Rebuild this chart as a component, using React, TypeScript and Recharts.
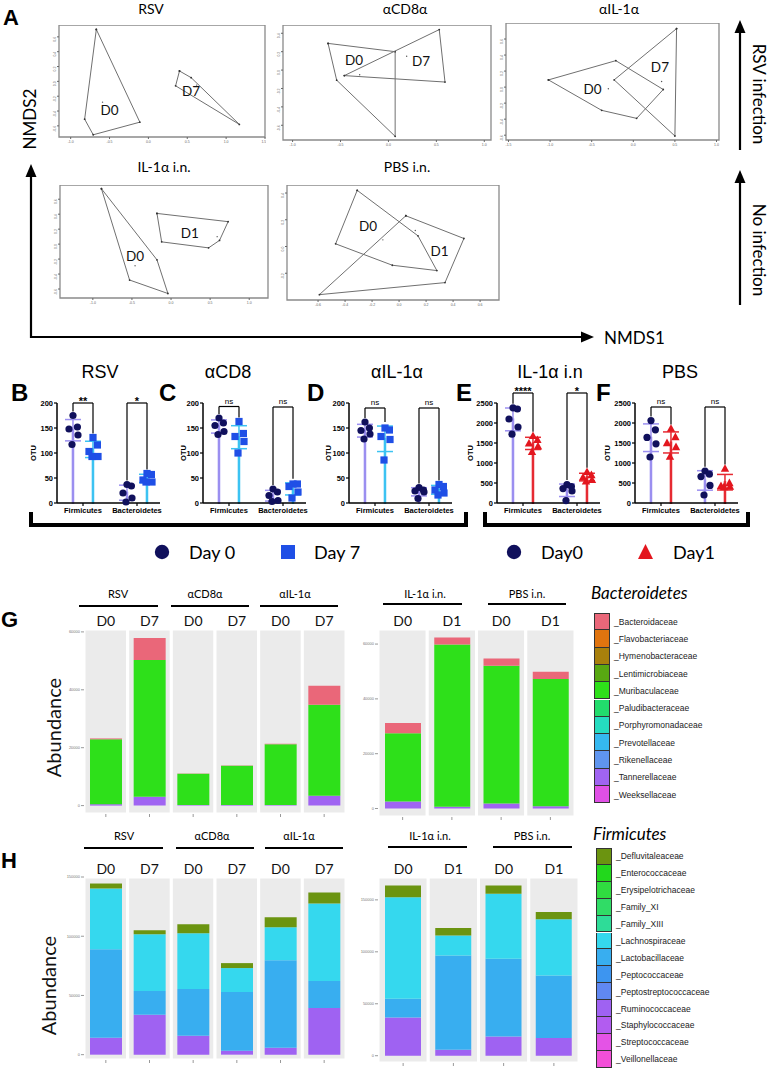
import {
  Bar,
  BarChart,
  Cell,
  ComposedChart,
  ErrorBar,
  ReferenceArea,
  ReferenceDot,
  ReferenceLine,
  Scatter,
  ScatterChart,
  XAxis,
  YAxis,
} from "recharts";

const SANS = "'Liberation Sans', Arial, sans-serif";
const SOFT = "Lato, 'Open Sans', sans-serif";

type P = { x: number; y: number };

// ---- A: NMDS hulls, centroids and where the group name sits (NMDS1, NMDS2)
const rsvD0Hull: P[] = [{ x: -0.67, y: 0.7 }, { x: -0.11, y: -0.55 }, { x: -0.71, y: -0.72 }, { x: -0.82, y: -0.51 }];
const rsvD7Hull: P[] = [{ x: 0.4, y: 0.14 }, { x: 0.55, y: 0.05 }, { x: 1.17, y: -0.58 }, { x: 0.35, y: -0.06 }];
const rsvCentres: P[] = [{ x: -0.59, y: -0.28 }, { x: 0.62, y: -0.05 }];
const rsvLabels: P[] = [{ x: -0.5, y: -0.39 }, { x: 0.55, y: -0.13 }];

const cd8D0Hull: P[] = [{ x: -0.63, y: 0.29 }, { x: 0.07, y: 0.2 }, { x: 0.07, y: -0.72 }, { x: -0.54, y: -0.11 }];
const cd8D7Hull: P[] = [{ x: -0.46, y: -0.06 }, { x: 0.53, y: 0.44 }, { x: 0.59, y: -0.13 }];
const cd8Centres: P[] = [{ x: -0.3, y: -0.05 }, { x: 0.19, y: 0.15 }];
const cd8Labels: P[] = [{ x: -0.36, y: 0.11 }, { x: 0.34, y: 0.1 }];

const ilD0Hull: P[] = [{ x: -1.02, y: 0.09 }, { x: -0.21, y: 0.33 }, { x: 0.36, y: -0.03 }, { x: 0.04, y: -0.39 }, { x: -0.38, y: -0.29 }];
const ilD7Hull: P[] = [{ x: 0.52, y: 0.73 }, { x: 0.5, y: -0.61 }, { x: -0.23, y: 0.09 }];
const ilCentres: P[] = [{ x: -0.3, y: -0.02 }, { x: 0.34, y: 0.07 }];
const ilLabels: P[] = [{ x: -0.49, y: -0.02 }, { x: 0.32, y: 0.25 }];

const inD0Hull: P[] = [{ x: -0.89, y: 0.74 }, { x: -0.18, y: -0.21 }, { x: -0.04, y: -0.66 }, { x: -0.53, y: -0.48 }];
const inD1Hull: P[] = [{ x: -0.18, y: 0.41 }, { x: 0.73, y: 0.3 }, { x: 0.62, y: 0.05 }, { x: 0.48, y: -0.05 }, { x: -0.12, y: 0.03 }];
const inCentres: P[] = [{ x: -0.46, y: -0.29 }, { x: 0.59, y: 0.1 }];
const inLabels: P[] = [{ x: -0.46, y: -0.16 }, { x: 0.24, y: 0.15 }];

const pbsD0Hull: P[] = [{ x: -0.31, y: 0.42 }, { x: 0.14, y: 0.08 }, { x: 0.28, y: -0.18 }, { x: -0.05, y: -0.14 }, { x: -0.47, y: 0.02 }];
const pbsD1Hull: P[] = [{ x: 0.05, y: 0.23 }, { x: 0.48, y: 0.06 }, { x: 0.34, y: -0.27 }, { x: -0.59, y: -0.36 }];
const pbsCentres: P[] = [{ x: -0.12, y: 0.05 }, { x: 0.12, y: 0.12 }];
const pbsLabels: P[] = [{ x: -0.23, y: 0.15 }, { x: 0.3, y: -0.03 }];

// ---- B-F: OTU per mouse (Firmicutes day 0 / later, Bacteroidetes day 0 / later)
const bFirm0 = [175, 152, 148, 136, 117];
const bFirm7 = [131, 116, 103, 93, 93];
const bBact0 = [37, 34, 20, 10, 2];
const bBact7 = [59, 57, 46, 42, 42];

const cFirm0 = [170, 160, 155, 143, 137];
const cFirm7 = [163, 139, 133, 123, 100];
const cBact0 = [28, 22, 15, 5, 3];
const cBact7 = [38, 38, 33, 22, 10];

const dFirm0 = [162, 150, 145, 138, 128];
const dFirm7 = [150, 146, 133, 127, 86];
const dBact0 = [31, 26, 24, 22, 9];
const dBact7 = [37, 33, 26, 20, 16];

const eFirm0 = [2380, 2350, 2100, 1900, 1720];
const eFirm1 = [1680, 1580, 1490, 1420, 1280];
const eBact0 = [460, 410, 360, 300, 60];
const eBact1 = [780, 700, 640, 580, 540];

const fFirm0 = [2060, 1830, 1640, 1480, 1150];
const fFirm1 = [1860, 1650, 1500, 1400, 1160];
const fBact0 = [800, 720, 660, 440, 200];
const fBact1 = [860, 500, 430, 410, 400];

const smallTicks = [0, 50, 100, 150, 200];
const bigTicks = [0, 500, 1000, 1500, 2000, 2500];

// ---- G: Bacteroidetes abundance per family
const bactFamilies = [
  "Bacteroidaceae", "Flavobacteriaceae", "Hymenobacteraceae", "Lentimicrobiaceae",
  "Muribaculaceae", "Paludibacteraceae", "Porphyromonadaceae", "Prevotellaceae",
  "Rikenellaceae", "Tannerellaceae", "Weeksellaceae",
];
const bactColours = [
  "#ea6779", "#e0740f", "#a8800c", "#58a812", "#2ee01a", "#22dc6c",
  "#25dcc0", "#35b8f0", "#5f95ef", "#a064f2", "#e050e6",
];

const leftCats = ["RSV D0", "RSV D7", "CD8 D0", "CD8 D7", "IL D0", "IL D7"];
const leftDays = ["D0", "D7", "D0", "D7", "D0", "D7"];
const rightCats = ["in D0", "in D1", "PBS D0", "PBS D1"];
const rightDays = ["D0", "D1", "D0", "D1"];

const gLeftBacteroidaceae = [300, 7600, 100, 100, 200, 6600];
const gLeftMuribaculaceae = [22400, 47200, 10800, 13600, 21000, 31400];
const gLeftTannerellaceae = [500, 3100, 200, 200, 200, 3400];

const gRightBacteroidaceae = [3700, 2600, 2600, 2600];
const gRightMuribaculaceae = [24900, 59200, 50300, 46500];
const gRightTannerellaceae = [2600, 600, 1800, 800];

// ---- H: Firmicutes abundance per family
const firmFamilies = [
  "Defluvitaleaceae", "Enterococcaceae", "Erysipelotrichaceae", "Family_XI", "Family_XIII",
  "Lachnospiraceae", "Lactobacillaceae", "Peptococcaceae", "Peptostreptococcaceae",
  "Ruminococcaceae", "Staphylococcaceae", "Streptococcaceae", "Veillonellaceae",
];
const firmColours = [
  "#6b9410", "#22d81c", "#30dc40", "#30dc66", "#2edc98", "#35d8ee", "#38aef0",
  "#3d95f0", "#6088f2", "#9f62f2", "#b25cf0", "#e453e6", "#f24fd8",
];

const hLeftDefluvitaleaceae = [4200, 3300, 7600, 4200, 8400, 9300];
const hLeftLachnospiraceae = [51300, 47900, 47000, 20200, 27800, 65500];
const hLeftLactobacillaceae = [74700, 20200, 39500, 49500, 73900, 22700];
const hLeftRuminococcaceae = [14300, 33600, 16000, 3400, 5900, 39500];

const hRightDefluvitaleaceae = [11200, 7100, 8000, 6800];
const hRightLachnospiraceae = [97800, 19200, 62500, 54200];
const hRightLactobacillaceae = [18000, 90700, 74700, 60200];
const hRightRuminococcaceae = [36800, 5800, 18600, 17000];

const DAY0_BAR = "#9b8ff0";
const DAY7_BAR = "#3cc3f2";
const DAY1_BAR = "#e62a32";
const DAY0_DOT = "#10105c";
const DAY7_DOT = "#1f4fe6";
const DAY1_DOT = "#e3161e";

function Txt({ x, y, children, size = 12, weight = 400, font = SANS, italic = false, align = "center", rotate = 0 }: any) {
  const tx = align === "center" ? "-50%" : align === "right" ? "-100%" : "0%";
  return (
    <div
      style={{
        position: "absolute", left: x, top: y, whiteSpace: "nowrap", lineHeight: 1,
        fontSize: size, fontWeight: weight, fontFamily: font, fontStyle: italic ? "italic" : "normal",
        color: "#000", transform: `translate(${tx}, -50%) rotate(${rotate}deg)`,
      }}
    >
      {children}
    </div>
  );
}

const hullDot = (p: any) => <circle cx={p.cx} cy={p.cy} r={0.9} fill="#333" />;

function Nmds({ title, tx, ty, box, xDomain, yDomain, xTicks, yTicks, hulls, centres, labels, names }: any) {
  const yw = 10;
  const xh = 9;
  const tickStyle = { fontSize: 3.5, fill: "#666" };
  return (
    <>
      <Txt x={tx} y={ty} size={14} font={SOFT}>{title}</Txt>
      <div style={{ position: "absolute", left: box.x - yw, top: box.y }}>
        <ScatterChart width={box.w + yw + 1} height={box.h + xh + 1} margin={{ top: 0, right: 1, bottom: 1, left: 0 }}>
          <XAxis type="number" dataKey="x" domain={xDomain} ticks={xTicks} height={xh} tickSize={2} axisLine={false}
            tick={tickStyle} tickFormatter={(v: number) => v.toFixed(1)} />
          <YAxis type="number" dataKey="y" domain={yDomain} ticks={yTicks} width={yw} tickSize={2} axisLine={false}
            tick={{ ...tickStyle, angle: -90 }} tickFormatter={(v: number) => v.toFixed(1)} />
          <ReferenceArea x1={xDomain[0]} x2={xDomain[1]} y1={yDomain[0]} y2={yDomain[1]} fill="none" stroke="#8a8a8a" strokeWidth={1.3} />
          {hulls.map((h: P[], i: number) => (
            <Scatter key={`h${i}`} data={[...h, h[0]]} line={{ stroke: "#707070", strokeWidth: 1 }} lineType="joint" shape={hullDot} isAnimationActive={false} />
          ))}
          <Scatter data={centres} shape={(p: any) => <circle cx={p.cx} cy={p.cy} r={0.7} fill="#555" />} isAnimationActive={false} />
          {labels.map((l: P, i: number) => (
            <Scatter key={`l${i}`} data={[l]} isAnimationActive={false}
              shape={(p: any) => (
                <text x={p.cx} y={p.cy} textAnchor="middle" dominantBaseline="central" fontSize={13.5} fontFamily={SOFT} fill="#111">{names[i]}</text>
              )} />
          ))}
        </ScatterChart>
      </div>
    </>
  );
}

const nmdsPlots = [
  { title: "RSV", tx: 151, ty: 9, box: { x: 59, y: 25, w: 206, h: 112 }, xDomain: [-1.15, 1.5], yDomain: [-0.75, 0.76],
    xTicks: [-1, -0.5, 0, 0.5, 1, 1.5], yTicks: [-0.6, -0.4, -0.2, 0, 0.2, 0.4, 0.6],
    hulls: [rsvD0Hull, rsvD7Hull], centres: rsvCentres, labels: rsvLabels, names: ["D0", "D7"] },
  { title: "αCD8α", tx: 405, ty: 9, box: { x: 283, y: 25, w: 208, h: 115 }, xDomain: [-1.1, 1.07], yDomain: [-0.76, 0.49],
    xTicks: [-1, -0.5, 0, 0.5, 1], yTicks: [-0.6, -0.4, -0.2, 0, 0.2, 0.4],
    hulls: [cd8D0Hull, cd8D7Hull], centres: cd8Centres, labels: cd8Labels, names: ["D0", "D7"] },
  { title: "αIL-1α", tx: 619, ty: 9, box: { x: 506, y: 23, w: 213, h: 117 }, xDomain: [-1.53, 1.03], yDomain: [-0.66, 0.8],
    xTicks: [-1.5, -1, -0.5, 0, 0.5, 1], yTicks: [-0.6, -0.4, -0.2, 0, 0.2, 0.4, 0.6],
    hulls: [ilD0Hull, ilD7Hull], centres: ilCentres, labels: ilLabels, names: ["D0", "D7"] },
  { title: "IL-1α i.n.", tx: 164, ty: 167, box: { x: 60, y: 185, w: 208, h: 113 }, xDomain: [-1.42, 1.24], yDomain: [-0.72, 0.79],
    xTicks: [-1, -0.5, 0, 0.5, 1], yTicks: [-0.6, -0.4, -0.2, 0, 0.2, 0.4, 0.6],
    hulls: [inD0Hull, inD1Hull], centres: inCentres, labels: inLabels, names: ["D0", "D1"] },
  { title: "PBS i.n.", tx: 407, ty: 167, box: { x: 287, y: 185, w: 212, h: 115 }, xDomain: [-0.83, 0.74], yDomain: [-0.4, 0.46],
    xTicks: [-0.6, -0.4, -0.2, 0, 0.2, 0.4, 0.6], yTicks: [-0.2, 0, 0.2, 0.4],
    hulls: [pbsD0Hull, pbsD1Hull], centres: pbsCentres, labels: pbsLabels, names: ["D0", "D1"] },
];

// bar slots on the numeric x axis: Firmicutes pair, then Bacteroidetes pair
const slots = [0, 1, 2.7, 3.7];
const spread = [0, 0.22, -0.2, 0.25, -0.05];

const mean = (a: number[]) => a.reduce((s, v) => s + v, 0) / a.length;
const sd = (a: number[]) => {
  const m = mean(a);
  return Math.sqrt(a.reduce((s, v) => s + (v - m) ** 2, 0) / (a.length - 1));
};

const circleDot = (p: any) => <circle cx={p.cx} cy={p.cy} r={3.6} fill={DAY0_DOT} />;
const squareDot = (p: any) => <rect x={p.cx - 3.6} y={p.cy - 3.6} width={7.2} height={7.2} fill={DAY7_DOT} />;
const triangleDot = (p: any) => (
  <polygon points={`${p.cx},${p.cy - 4.4} ${p.cx - 4.2},${p.cy + 3.2} ${p.cx + 4.2},${p.cy + 3.2}`} fill={DAY1_DOT} />
);

function OtuPanel({ letter, lx, title, tx, plotX, yMax, yTicks, groups, laterBar, laterDot, marks, otuX }: any) {
  const yw = 36;
  const top = 30;
  const bars = groups.map((g: number[], i: number) => ({
    pos: slots[i],
    mean: mean(g),
    [i % 2 ? "sdLate" : "sdEarly"]: sd(g),
  }));
  const early = groups.flatMap((g: number[], i: number) => (i % 2 ? [] : g.map((v, k) => ({ pos: slots[i] + spread[k], v }))));
  const late = groups.flatMap((g: number[], i: number) => (i % 2 ? g.map((v, k) => ({ pos: slots[i] + spread[k], v })) : []));
  const pad = yMax * 0.04;
  const reach = groups.map((g: number[]) => Math.max(Math.max(...g), mean(g) + sd(g)) + pad);
  return (
    <>
      <Txt x={tx} y={372} size={18}>{title}</Txt>
      <Txt x={lx} y={393} size={24} weight={700} align="left">{letter}</Txt>
      <div style={{ position: "absolute", left: plotX - yw, top: 403 - top }}>
        <ComposedChart width={yw + 103 + 4} height={top + 100 + 18} data={bars} margin={{ top, right: 4, bottom: 0, left: 0 }}>
          <XAxis type="number" dataKey="pos" domain={[-0.8, 4.35]} ticks={[0.5, 3.2]} height={18} tickSize={3}
            axisLine={{ stroke: "#000", strokeWidth: 1.5 }} tickLine={{ stroke: "#000", strokeWidth: 1.2 }}
            tick={{ fontSize: 7.5, fontWeight: 700, fill: "#000", fontFamily: SANS }}
            tickFormatter={(v: number) => (v < 2 ? "Firmicutes" : "Bacteroidetes")} />
          <YAxis type="number" domain={[0, yMax]} ticks={yTicks} width={yw} tickSize={3} tickMargin={1}
            axisLine={{ stroke: "#000", strokeWidth: 1.5 }} tickLine={{ stroke: "#000", strokeWidth: 1.2 }}
            tick={{ fontSize: 7.5, fontWeight: 700, fill: "#000", fontFamily: SANS }}
            label={{
              content: (p: any) => {
                const vb = p.viewBox || {};
                const cx = vb.x + otuX;
                const cy = vb.y + vb.height / 2;
                return (
                  <text x={cx} y={cy} transform={`rotate(-90 ${cx} ${cy})`} textAnchor="middle" dominantBaseline="central"
                    fontSize={7.5} fontWeight={700} fontFamily={SANS}>OTU</text>
                );
              },
            }} />
          <Bar dataKey="mean" barSize={12} isAnimationActive={false}>
            {bars.map((_: any, i: number) => (
              <Cell key={i} fill="#fff" stroke={i % 2 ? laterBar : DAY0_BAR} strokeWidth={2} />
            ))}
            <ErrorBar dataKey="sdEarly" width={8} stroke={DAY0_BAR} strokeWidth={1.5} />
            <ErrorBar dataKey="sdLate" width={8} stroke={laterBar} strokeWidth={1.5} />
          </Bar>
          <Scatter data={early} dataKey="v" shape={circleDot} isAnimationActive={false} />
          <Scatter data={late} dataKey="v" shape={laterDot} isAnimationActive={false} />
          {marks.map((m: any, j: number) => {
            const a = 2 * j;
            const b = 2 * j + 1;
            const stroke = { stroke: "#000", strokeWidth: 1.2, ifOverflow: "visible" as const };
            return [
              <ReferenceLine key={`a${j}`} segment={[{ x: slots[a], y: reach[a] }, { x: slots[a], y: m.level }]} {...stroke} />,
              <ReferenceLine key={`t${j}`} segment={[{ x: slots[a], y: m.level }, { x: slots[b], y: m.level }]} {...stroke} />,
              <ReferenceLine key={`b${j}`} segment={[{ x: slots[b], y: m.level }, { x: slots[b], y: reach[b] }]} {...stroke} />,
              <ReferenceDot key={`d${j}`} x={(slots[a] + slots[b]) / 2} y={m.level} r={0} ifOverflow="visible" fill="none" stroke="none"
                label={{
                  content: (p: any) => {
                    const vb = p.viewBox || {};
                    const star = m.label !== "ns";
                    return (
                      <text x={vb.x + (vb.width || 0) / 2} y={vb.y + (star ? 2 : -3)} textAnchor="middle"
                        fontSize={star ? 11 : 8} fontWeight={star ? 700 : 400} fontFamily={SANS}>{m.label}</text>
                    );
                  },
                }} />,
            ];
          })}
        </ComposedChart>
      </div>
    </>
  );
}

const otuPanels = [
  { letter: "B", lx: 11, title: "RSV", tx: 100, plotX: 57, yMax: 200, yTicks: smallTicks, groups: [bFirm0, bFirm7, bBact0, bBact7],
    laterBar: DAY7_BAR, laterDot: squareDot, marks: [{ label: "**", level: 200 }, { label: "*", level: 200 }], otuX: 12 },
  { letter: "C", lx: 159, title: "αCD8", tx: 228, plotX: 203, yMax: 200, yTicks: smallTicks, groups: [cFirm0, cFirm7, cBact0, cBact7],
    laterBar: DAY7_BAR, laterDot: squareDot, marks: [{ label: "ns", level: 193 }, { label: "ns", level: 192 }], otuX: 16 },
  { letter: "D", lx: 307, title: "αIL-1α", tx: 397, plotX: 349, yMax: 200, yTicks: smallTicks, groups: [dFirm0, dFirm7, dBact0, dBact7],
    laterBar: DAY7_BAR, laterDot: squareDot, marks: [{ label: "ns", level: 190 }, { label: "ns", level: 190 }], otuX: 15 },
  { letter: "E", lx: 456, title: "IL-1α i.n", tx: 550, plotX: 497, yMax: 2500, yTicks: bigTicks, groups: [eFirm0, eFirm1, eBact0, eBact1],
    laterBar: DAY1_BAR, laterDot: triangleDot, marks: [{ label: "****", level: 2750 }, { label: "*", level: 2750 }], otuX: 9 },
  { letter: "F", lx: 596, title: "PBS", tx: 680, plotX: 635, yMax: 2500, yTicks: bigTicks, groups: [fFirm0, fFirm1, fBact0, fBact1],
    laterBar: DAY1_BAR, laterDot: triangleDot, marks: [{ label: "ns", level: 2400 }, { label: "ns", level: 2400 }], otuX: 8 },
];

function Abund({ box, rows, families, colours, yDomain, yTicks, barSize, yw, label, labelDy }: any) {
  const present = families.filter((f: string) => rows.some((r: any) => r[f] !== undefined));
  const dayOf: Record<string, string> = Object.fromEntries(rows.map((r: any) => [r.cat, r.day]));
  return (
    <div style={{ position: "absolute", left: box.x - yw, top: box.y - 16 }}>
      <BarChart width={yw + box.w + 1} height={16 + box.h + 8} data={rows} margin={{ top: 0, right: 1, bottom: 0, left: 0 }} barSize={barSize}>
        <XAxis xAxisId="strip" orientation="top" dataKey="cat" height={16} interval={0} tickLine={false} tickSize={0} tickMargin={3}
          axisLine={false} tickFormatter={(c: string) => dayOf[c]} tick={{ fontSize: 14, fill: "#111", fontFamily: SOFT }} />
        <XAxis xAxisId="base" dataKey="cat" height={8} interval={0} tickSize={3} axisLine={false}
          tickFormatter={() => ""} tickLine={{ stroke: "#999" }} />
        <YAxis type="number" domain={yDomain} ticks={yTicks} width={yw} tickSize={3} tickMargin={1} axisLine={false}
          tickLine={{ stroke: "#999" }} tick={{ fontSize: 4, fill: "#777" }}
          label={label ? {
            content: (p: any) => {
              const vb = p.viewBox || {};
              const cx = vb.x + label;
              const cy = vb.y + vb.height / 2 + labelDy;
              return (
                <text x={cx} y={cy} transform={`rotate(-90 ${cx} ${cy})`} textAnchor="middle" dominantBaseline="central"
                  fontSize={20} fontFamily={SOFT} fill="#111">Abundance</text>
              );
            },
          } : undefined} />
        {rows.map((r: any) => (
          <ReferenceArea key={r.cat} xAxisId="base" x1={r.cat} x2={r.cat} y1={yDomain[0]} y2={yDomain[1]}
            fill="#ebebeb" fillOpacity={1} stroke="#fff" strokeWidth={3} />
        ))}
        {present.slice().reverse().map((f: string) => (
          <Bar key={f} xAxisId="base" dataKey={f} stackId="s" fill={colours[families.indexOf(f)]} isAnimationActive={false} />
        ))}
      </BarChart>
    </div>
  );
}

const gLeftRows = leftCats.map((cat, i) => ({
  cat, day: leftDays[i],
  Bacteroidaceae: gLeftBacteroidaceae[i], Muribaculaceae: gLeftMuribaculaceae[i], Tannerellaceae: gLeftTannerellaceae[i],
}));
const gRightRows = rightCats.map((cat, i) => ({
  cat, day: rightDays[i],
  Bacteroidaceae: gRightBacteroidaceae[i], Muribaculaceae: gRightMuribaculaceae[i], Tannerellaceae: gRightTannerellaceae[i],
}));
const hLeftRows = leftCats.map((cat, i) => ({
  cat, day: leftDays[i],
  Defluvitaleaceae: hLeftDefluvitaleaceae[i], Lachnospiraceae: hLeftLachnospiraceae[i],
  Lactobacillaceae: hLeftLactobacillaceae[i], Ruminococcaceae: hLeftRuminococcaceae[i],
}));
const hRightRows = rightCats.map((cat, i) => ({
  cat, day: rightDays[i],
  Defluvitaleaceae: hRightDefluvitaleaceae[i], Lachnospiraceae: hRightLachnospiraceae[i],
  Lactobacillaceae: hRightLactobacillaceae[i], Ruminococcaceae: hRightRuminococcaceae[i],
}));

function FamilyKey({ x, y, title, titleY, families, colours, row }: any) {
  return (
    <>
      <Txt x={x - 3} y={titleY} size={17} font={SOFT} italic align="left">{title}</Txt>
      {families.map((f: string, i: number) => (
        <div key={f} style={{ position: "absolute", left: x, top: y + i * row, height: row, display: "flex", alignItems: "center" }}>
          <div style={{ width: 16, height: row, boxSizing: "border-box", background: colours[i], border: "1px solid #333", borderTopWidth: i ? 0 : 1 }} />
          <span style={{ marginLeft: 4, fontSize: 8.5, fontFamily: SANS, color: "#222" }}>_{f}</span>
        </div>
      ))}
    </>
  );
}

const groupHeads = [
  { t: "RSV", x: 118, y: 593, a: 79, b: 158, ly: 606 },
  { t: "αCD8α", x: 205, y: 593, a: 171, b: 249, ly: 606 },
  { t: "αIL-1α", x: 295, y: 593, a: 260, b: 338, ly: 606 },
  { t: "IL-1α i.n.", x: 425, y: 593, a: 383, b: 462, ly: 604 },
  { t: "PBS i.n.", x: 527, y: 593, a: 488, b: 566, ly: 604 },
  { t: "RSV", x: 124, y: 835, a: 84, b: 163, ly: 848 },
  { t: "αCD8α", x: 212, y: 835, a: 176, b: 254, ly: 848 },
  { t: "αIL-1α", x: 299, y: 835, a: 265, b: 343, ly: 848 },
  { t: "IL-1α i.n.", x: 430, y: 835, a: 388, b: 467, ly: 847 },
  { t: "PBS i.n.", x: 532, y: 835, a: 493, b: 572, ly: 847 },
];

function Overlay() {
  return (
    <svg width={782} height={1070} style={{ position: "absolute", left: 0, top: 0, pointerEvents: "none" }}>
      <g stroke="#000" strokeWidth={2.2} fill="none">
        <polyline points="31,174 31,337 584,337" />
        <line x1={740} y1={150} x2={740} y2={30} />
        <line x1={740} y1={305} x2={740} y2={180} />
      </g>
      <g fill="#000">
        <polygon points="31,164 25.5,177 36.5,177" />
        <polygon points="594,337 581,331.5 581,342.5" />
        <polygon points="740,20 734.5,33 745.5,33" />
        <polygon points="740,170 734.5,183 745.5,183" />
      </g>
      <g stroke="#000" strokeWidth={4} fill="none">
        <polyline points="31,512 31,525 466,525 466,512" />
        <polyline points="485,512 485,525 748,525 748,512" />
      </g>
      <g stroke="#000" strokeWidth={2}>
        {groupHeads.map((g, i) => <line key={i} x1={g.a} x2={g.b} y1={g.ly} y2={g.ly} />)}
      </g>
      <circle cx={162} cy={552} r={7.2} fill={DAY0_DOT} />
      <rect x={281} y={545} width={14} height={14} fill={DAY7_DOT} />
      <circle cx={514} cy={552} r={7.2} fill={DAY0_DOT} />
      <polygon points="645.5,544 638,559 653,559" fill={DAY1_DOT} />
    </svg>
  );
}

export default function App() {
  return (
    <div style={{ position: "absolute", left: 0, top: 0, width: 782, height: 1070, background: "#fff", overflow: "hidden", fontFamily: SANS }}>
      <Txt x={3} y={18} size={22} weight={700} align="left">A</Txt>
      {nmdsPlots.map((p) => <Nmds key={p.title} {...p} />)}
      <Txt x={29} y={119} size={17} font={SOFT} rotate={-90}>NMDS2</Txt>
      <Txt x={604} y={337} size={17} font={SOFT} align="left">NMDS1</Txt>
      <Txt x={759} y={94} size={17} font={SOFT} rotate={90}>RSV infection</Txt>
      <Txt x={759} y={250} size={17} font={SOFT} rotate={90}>No infection</Txt>

      {otuPanels.map((p) => <OtuPanel key={p.letter} {...p} />)}

      <Txt x={189} y={552} size={18} font={SOFT} align="left">Day 0</Txt>
      <Txt x={314} y={552} size={18} font={SOFT} align="left">Day 7</Txt>
      <Txt x={541} y={552} size={18} font={SOFT} align="left">Day0</Txt>
      <Txt x={673} y={552} size={18} font={SOFT} align="left">Day1</Txt>

      <Txt x={1} y={620} size={22} weight={700} align="left">G</Txt>
      <Txt x={1} y={861} size={22} weight={700} align="left">H</Txt>
      {groupHeads.map((g, i) => <Txt key={i} x={g.x} y={g.y} size={11} font={SOFT}>{g.t}</Txt>)}

      <Abund box={{ x: 84, y: 629, w: 262, h: 185 }} yw={56} rows={gLeftRows} families={bactFamilies} colours={bactColours}
        yDomain={[-2900, 61000]} yTicks={[0, 20000, 40000, 60000]} barSize={32} label={25} labelDy={6} />
      <Abund box={{ x: 378, y: 629, w: 197, h: 188 }} yw={18} rows={gRightRows} families={bactFamilies} colours={bactColours}
        yDomain={[-3100, 65500]} yTicks={[0, 20000, 40000, 60000]} barSize={36} />
      <Abund box={{ x: 84, y: 877, w: 262, h: 183 }} yw={56} rows={hLeftRows} families={firmFamilies} colours={firmColours}
        yDomain={[-4500, 150000]} yTicks={[0, 50000, 100000, 150000]} barSize={32} label={20} labelDy={17} />
      <Abund box={{ x: 378, y: 877, w: 201, h: 186 }} yw={18} rows={hRightRows} families={firmFamilies} colours={firmColours}
        yDomain={[-7000, 172000]} yTicks={[0, 50000, 100000, 150000]} barSize={36} />

      <FamilyKey x={594} y={613} title="Bacteroidetes" titleY={592} families={bactFamilies} colours={bactColours} row={17.3} />
      <FamilyKey x={596} y={848} title="Firmicutes" titleY={833} families={firmFamilies} colours={firmColours} row={16.9} />

      <Overlay />
    </div>
  );
}
